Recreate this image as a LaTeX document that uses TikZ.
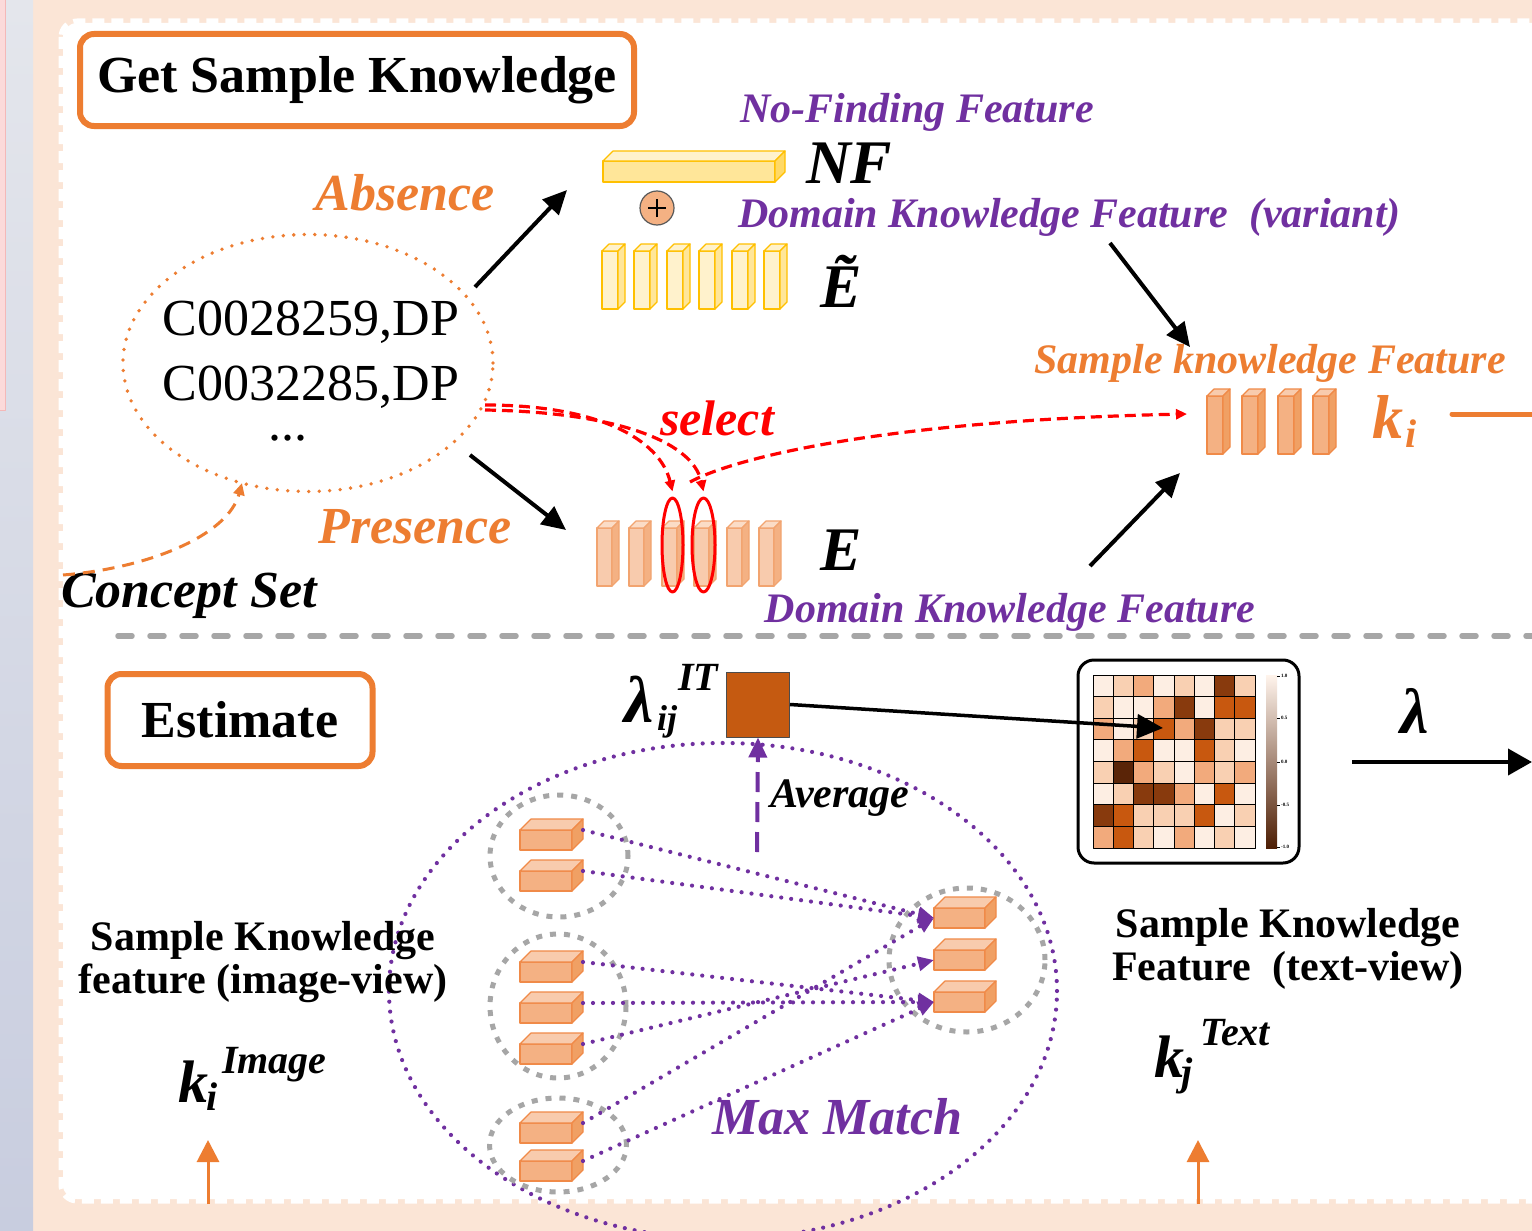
\documentclass[tikz,border=0pt]{standalone}
\usepackage{fontspec}
\setmainfont{Liberation Serif}
\usetikzlibrary{arrows.meta,shapes.geometric}
\definecolor{peach}{HTML}{FBE5D6}
\definecolor{orng}{HTML}{ED7D31}
\definecolor{purp}{HTML}{7030A0}
\definecolor{brwn}{HTML}{C55A11}
\definecolor{gry}{HTML}{A6A6A6}
\definecolor{redc}{HTML}{FF0000}
\definecolor{yfront}{HTML}{FFE699}
\definecolor{ylight}{HTML}{FFF2CC}
\definecolor{yside}{HTML}{FFD966}
\definecolor{ybord}{HTML}{FFC000}
\definecolor{ofront}{HTML}{F4B183}
\definecolor{olight}{HTML}{F8CBAD}
\definecolor{otop}{HTML}{FBDCC6}
\definecolor{oside}{HTML}{F0A064}
\definecolor{obord}{HTML}{F08A48}
\definecolor{obordl}{HTML}{F2A470}
\definecolor{h0}{HTML}{FDEEE3}
\definecolor{h1}{HTML}{F9D0B2}
\definecolor{h2}{HTML}{F2AA7C}
\definecolor{h3}{HTML}{C8580F}
\definecolor{h4}{HTML}{883A0D}
\definecolor{h5}{HTML}{5A2407}
\definecolor{cbtop}{HTML}{FFF4EC}
\definecolor{cbmid}{HTML}{CD8A5E}
\definecolor{cbbot}{HTML}{4D1E04}
\definecolor{stripA}{HTML}{E4E6EC}
\definecolor{stripB}{HTML}{C8CDDF}
\definecolor{pinkc}{HTML}{FBDADA}
\definecolor{pinkb}{HTML}{F4B8B8}
\newcommand{\myfsz}[1]{\fontsize{#1}{#1}\selectfont}
\newcommand{\cub}[9]{%
  \filldraw[draw=#9,fill=#6,line width=1.2pt] (#1,#2) rectangle ({#1+#3},{#2+#4});
  \filldraw[draw=#9,fill=#7,line width=1.2pt] (#1,#2) -- ++(#5,-#5) -- ++(#3,0) -- ++(-#5,#5) -- cycle;
  \filldraw[draw=#9,fill=#8,line width=1.2pt] ({#1+#3},#2) -- ++(#5,-#5) -- ++(0,#4) -- ++(-#5,#5) -- cycle;}
\begin{document}
\begin{tikzpicture}[x=1pt,y=-1pt,line join=round,
 bi/.style={font=\bfseries\itshape\myfsz{#1},inner sep=0pt},
 bd/.style={font=\bfseries\myfsz{#1},inner sep=0pt},
 rm/.style={font=\myfsz{#1},inner sep=0pt},
 blkarrow/.style={draw=black,line width=4pt,-{Triangle[length=24pt,width=22pt]}},
 titlebox/.style={draw=orng,line width=6pt,rounded corners=14pt,fill=white},
 reddash/.style={draw=redc,line width=3.2pt,dash pattern=on 11pt off 6pt,-{Triangle[length=11pt,width=10pt]}},
 pdot/.style={draw=purp,line width=4.2pt,line cap=round,dash pattern=on 0pt off 10pt},
 pmatch/.style={pdot,-{Triangle[length=16pt,width=14pt]}},
 gdot/.style={draw=gry,line width=5pt,dash pattern=on 6pt off 8pt},
 odot/.style={draw=orng,line width=3.8pt,line cap=round,dash pattern=on 0pt off 10.5pt},
 orarrow/.style={draw=orng,line width=3pt,-{Triangle[length=22pt,width=22pt]}},
 redell/.style={draw=redc,ellipse,line width=3pt,inner sep=0pt},
 grpell/.style={gdot,ellipse,inner sep=0pt},
]
% ---------- background ----------
\useasboundingbox (0,0) rectangle (1532,1231);
\clip (0,0) rectangle (1532,1231);
\fill[peach] (0,0) rectangle (1532,1231);
\shade[top color=stripA,bottom color=stripB] (0,0) rectangle (33,1231);
\filldraw[fill=pinkc,draw=pinkb,line width=1pt] (-2,-2) rectangle (5,410);
\fill[white,rounded corners=14pt] (63,23) rectangle (1600,1199);
\draw[white,line width=5pt,dash pattern=on 12pt off 7pt,rounded corners=16pt] (61,21) rectangle (1600,1201);

% ---------- top section ----------
\node[titlebox,bd=52,minimum width=554pt,minimum height=92pt] (gsk) at (357,80) {Get Sample Knowledge};

\node[ellipse,odot,minimum width=370pt,minimum height=257pt,inner sep=0pt] (cs) at (308,363) {};
\node[rm=52,anchor=base] (c1) at (311,335) {C0028259,DP};
\node[rm=52,anchor=base] (c2) at (311,400) {C0032285,DP};
\node[rm=52,anchor=base,text height=6pt,text depth=0pt] (c3) at (288,440) {...};

\node[bi=52,text=orng,anchor=base] (absence) at (405,210) {Absence};
\node[bi=52,text=orng,anchor=base] (presence) at (415,543) {Presence};
\node[bi=52,anchor=base west] (cset) at (61,607) {Concept Set};

% concept set arrow
\coordinate (csa) at (63,575);
\coordinate (csb) at (242,483);
\draw[draw=orng,line width=3pt,dash pattern=on 12pt off 8pt,-{Triangle[length=12pt,width=11pt]}] (csa) .. controls (150,568) and (228,535) .. (csb);

% NF bar and plus
\cub{603}{161}{172}{21}{10}{yfront}{ylight}{yside}{ybord}
\node[circle,draw=black!65,fill=ofront,minimum size=34pt,inner sep=0pt,line width=1.2pt] (plus) at (657,208) {};
\draw[line width=1.8pt] ([xshift=-9pt]plus.center) -- ([xshift=9pt]plus.center);
\draw[line width=1.8pt] ([yshift=-9pt]plus.center) -- ([yshift=9pt]plus.center);
% E tilde bars
\foreach \x in {602,634,667,699,732,764} {\cub{\x}{251}{16}{58}{7}{ylight}{ylight}{yfront}{ybord}}
% E bars
\foreach \x in {597,629,662,694,727,759} {\cub{\x}{528}{15}{58}{7}{olight}{otop}{ofront}{obordl}}
% k bars
\foreach \x in {1207,1242,1278,1313} {\cub{\x}{396}{16}{58}{7}{ofront}{olight}{oside}{obord}}

\node[bi=42,text=purp,anchor=base] (nofind) at (917,122) {No-Finding Feature};
\node[bi=62,anchor=base west] (nf) at (806,183) {NF};
\node[bi=42,text=purp,anchor=base west] (dkfv) at (738,227) {Domain Knowledge Feature\ \ (variant)};
\node[bi=62,anchor=base west] (etil) at (820,307) {Ẽ};
\node[bi=62,anchor=base west] (elab) at (820,570) {E};
\node[bi=42,text=purp,anchor=base] (dkf) at (1010,622) {Domain Knowledge Feature};
\node[bi=42,text=orng,anchor=base] (skf) at (1270,373) {Sample knowledge Feature};
\node[bi=62,text=orng,anchor=base west] (kk) at (1372,438) {k};
\node[bi=40,text=orng,anchor=base west] (ksub) at (1405,447) {i};
\node[bi=50,text=redc,anchor=base] (select) at (717,435) {select};

% red ellipses
\node[redell,minimum width=21pt,minimum height=94pt] (sel1) at (672.5,545) {};
\node[redell,minimum width=23pt,minimum height=94pt] (sel2) at (703.5,545) {};

% black arrows
\coordinate (a1s) at (475,287); \coordinate (a1e) at (567,190);
\coordinate (a2s) at (470,455); \coordinate (a2e) at (566,530);
\coordinate (a3s) at (1110,243); \coordinate (a3e) at (1190,347);
\coordinate (a4s) at (1090,566); \coordinate (a4e) at (1180,473);
\draw[blkarrow] (a1s) -- (a1e);
\draw[blkarrow] (a2s) -- (a2e);
\draw[blkarrow] (a3s) -- (a3e);
\draw[blkarrow] (a4s) -- (a4e);

% red dashed select curves
\coordinate (r0a) at (485,405);
\coordinate (r0b) at (485,410);
\coordinate (r3s) at (690,482);
\coordinate (kin) at (1187,414);
\draw[reddash] (r0a) .. controls (600,405) and (660,440) .. ([yshift=5pt]sel1.north);
\draw[reddash] (r0b) .. controls (612,412) and (692,440) .. ([yshift=5pt]sel2.north);
\draw[reddash] (r3s) .. controls (740,455) and (900,420) .. (kin);

% orange line to the right
\coordinate (ko) at (1452,414); \coordinate (koe) at (1545,414);
\draw[orng,line width=5pt,line cap=round] (ko) -- (koe);

% separator
\coordinate (sepL) at (118,636); \coordinate (sepR) at (1545,636);
\draw[gry,line width=5.5pt,line cap=round,dash pattern=on 14pt off 18pt] (sepL) -- (sepR);

% ---------- bottom section ----------
\node[titlebox,bd=52,minimum width=265pt,minimum height=92pt] (est) at (240,720) {Estimate};

\node[draw=black!70,fill=brwn,minimum width=63pt,minimum height=65pt,inner sep=0pt,line width=1pt] (sq) at (758,704.5) {};
\node[bi=66,anchor=base west] (lam) at (624,722) {λ};
\node[bi=36,anchor=base west] (lamsub) at (657,730) {ij};
\node[bi=40,anchor=base west] (lamsup) at (678,690) {IT};

% big max-match ellipse
\node[pdot,ellipse,minimum width=668pt,minimum height=496pt,inner sep=0pt] (mm) at (723,991) {};

% average arrow
\coordinate (avs) at (757,852);
\draw[draw=purp,line width=4pt,dash pattern=on 20pt off 10pt,-{Triangle[length=20pt,width=18pt]}] (avs) -- (sq.south);
\node[bi=42,anchor=base west] (avg) at (770,807) {Average};

% group ellipses
\node[grpell,minimum width=138pt,minimum height=122pt] (g1) at (559,856) {};
\node[grpell,minimum width=136pt,minimum height=144pt] (g2) at (558,1006) {};
\node[grpell,minimum width=137pt,minimum height=94pt] (g3) at (558,1145) {};
\node[grpell,minimum width=156pt,minimum height=144pt] (gr) at (967,960) {};

% small boxes
\foreach \y in {830,871,962,1003,1044,1123,1161} {\cub{520}{\y}{52}{20}{11}{ofront}{olight}{oside}{obord}}
\foreach \y in {908,950,992} {\cub{934}{\y}{51}{20}{11}{ofront}{olight}{oside}{obord}}

% matching lines
\coordinate (L1) at (583,830); \coordinate (L2) at (583,871);
\coordinate (L3) at (583,962); \coordinate (L4) at (583,1003); \coordinate (L5) at (583,1044);
\coordinate (L6) at (583,1123); \coordinate (L7) at (583,1161);
\coordinate (R1) at (934,918); \coordinate (R2) at (934,960); \coordinate (R3) at (934,1002);
\draw[pmatch] (L1) -- (R1);
\draw[pmatch] (L2) -- (R1);
\draw[pmatch] (L6) -- (R1);
\draw[pmatch] (L5) -- (R2);
\draw[pmatch] (L3) -- (R3);
\draw[pmatch] (L4) -- (R3);
\draw[pmatch] (L7) -- (R3);

\node[bi=52,text=purp,anchor=base west] (mmlab) at (712,1134) {Max Match};

% heatmap panel
\node[draw=black,line width=3pt,rounded corners=16pt,minimum width=221pt,minimum height=203pt,inner sep=0pt] (hm) at (1188.5,761.5) {};
\foreach \rowv [count=\r from 0] in {{0,1,2,0,1,0,4,1},{1,0,0,2,4,0,3,3},{2,0,1,3,2,4,1,1},{0,2,3,0,0,3,1,0},{1,5,2,1,0,2,1,2},{0,1,4,4,2,0,3,0},{4,3,1,1,1,3,0,1},{2,3,1,0,2,0,1,0}}{
  \foreach \v [count=\c from 0] in \rowv {
    \filldraw[fill=h\v,draw=black,line width=1pt] ({1093+\c*20.25},{675+\r*21.625}) rectangle ++(20.25,21.625);
  }
}
\shade[top color=cbtop,middle color=cbmid,bottom color=cbbot] (1266,675) rectangle (1277,848);
\foreach \yy/\tl in {676/1.0,718/0.5,762/0.0,805/-0.5,847/-1.0} {
  \draw[line width=0.6pt] (1277,\yy) -- (1280,\yy);
  \node[anchor=west,inner sep=0pt,font=\bfseries\myfsz{5}] at (1281,\yy) {\tl};
}
\coordinate (hmt) at (1163,728);
\draw[draw=black,line width=3.5pt,-{Triangle[length=26pt,width=24pt]}] (sq.east) -- (hmt);

% lambda output
\node[bi=64,anchor=base west] (lam2) at (1400,733) {λ};
\coordinate (lsrc) at (1352,762); \coordinate (ldst) at (1532,762);
\draw[line width=4pt,-{Triangle[length=24pt,width=26pt]}] (lsrc) -- (ldst);

% view labels
\node[bd=42,anchor=base] (iv1) at (263,950) {Sample Knowledge};
\node[bd=42,anchor=base] (iv2) at (263,993) {feature (image-view)};
\node[bd=42,anchor=base] (tv1) at (1288,937) {Sample Knowledge};
\node[bd=42,anchor=base] (tv2) at (1288,980) {Feature\ \ (text-view)};

\node[bi=60,anchor=base west] (kimg) at (178,1102) {k};
\node[bi=40,anchor=base west] (kimgsub) at (206,1110) {i};
\node[bi=40,anchor=base west] (kimgsup) at (222,1073) {Image};
\node[bi=60,anchor=base west] (ktxt) at (1154,1077) {k};
\node[bi=40,anchor=base west] (ktxtsub) at (1181,1085) {j};
\node[bi=40,anchor=base west] (ktxtsup) at (1200,1045) {Text};

\coordinate (oa1s) at (208,1204); \coordinate (oa1e) at (208,1140);
\coordinate (oa2s) at (1198,1204); \coordinate (oa2e) at (1198,1140);
\draw[orarrow] (oa1s) -- (oa1e);
\draw[orarrow] (oa2s) -- (oa2e);
\end{tikzpicture}
\end{document}
